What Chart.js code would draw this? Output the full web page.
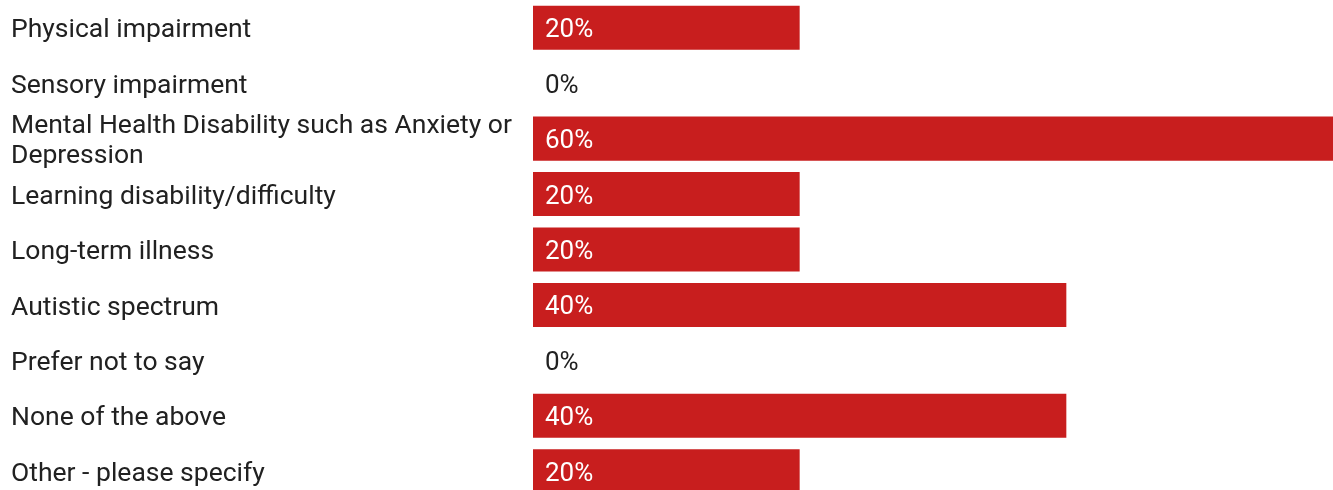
<!DOCTYPE html>
<html lang="en">
<head>
  <meta charset="UTF-8" />
  <title>Disability responses</title>
  <script src="https://cdn.jsdelivr.net/npm/chart.js"></script>
  <style>
    html, body {
      margin: 0;
      background: #fff;
      overflow: hidden;
    }
    .wrap {
      width: 1333px;
      height: 499px;
    }
  </style>
</head>
<body>
  <div class="wrap">
    <canvas id="chart"></canvas>
  </div>

  <script>
    const categories = [
      'Physical impairment',
      'Sensory impairment',
      ['Mental Health Disability such as Anxiety or', 'Depression'],
      'Learning disability/difficulty',
      'Long-term illness',
      'Autistic spectrum',
      'Prefer not to say',
      'None of the above',
      'Other - please specify'
    ];
    const percentages = [20, 0, 60, 20, 20, 40, 0, 40, 20];

    // draws "20%" etc. just inside the start of each bar
    const valueLabels = {
      id: 'valueLabels',
      afterDatasetsDraw(chart) {
        const ctx = chart.ctx;
        const meta = chart.getDatasetMeta(0);
        ctx.save();
        ctx.font = '26px Roboto';
        ctx.textAlign = 'left';
        ctx.textBaseline = 'middle';
        meta.data.forEach((bar, i) => {
          const v = percentages[i];
          ctx.fillStyle = v > 0 ? '#ffffff' : '#212121';
          ctx.fillText(v + '%', bar.base + 12, bar.y + 3);
        });
        ctx.restore();
      }
    };

    // Roboto sits a little high with 'middle' baseline, nudge the category labels down
    const nudgeLabels = {
      id: 'nudgeLabels',
      beforeDraw(chart) {
        const y = chart.scales.y;
        if (y._nudged) return;
        y.getLabelItems().forEach(item => { item.options.translation[1] += 3; });
        y._nudged = true;
      }
    };

    new Chart(document.getElementById('chart'), {
      type: 'bar',
      data: {
        labels: categories,
        datasets: [{
          data: percentages,
          backgroundColor: '#c81e1e',
          barPercentage: 0.795,
          categoryPercentage: 1
        }]
      },
      options: {
        indexAxis: 'y',
        responsive: true,
        maintainAspectRatio: false,
        animation: false,
        layout: { padding: { left: 11, right: 0, top: 0, bottom: 0 } },
        plugins: {
          legend: { display: false },
          tooltip: { enabled: false }
        },
        scales: {
          x: {
            display: false,
            min: 0,
            max: 60
          },
          y: {
            grid: { display: false },
            border: { display: false },
            afterFit(scale) {
              scale.width = 522;
              scale.paddingTop = 0;
              scale.paddingBottom = 0;
            },
            ticks: {
              autoSkip: false,
              crossAlign: 'far',
              color: '#212121',
              padding: 0,
              font: { family: 'Roboto', size: 26.5, lineHeight: 1.14 }
            }
          }
        }
      },
      plugins: [valueLabels, nudgeLabels]
    });
  </script>
</body>
</html>
